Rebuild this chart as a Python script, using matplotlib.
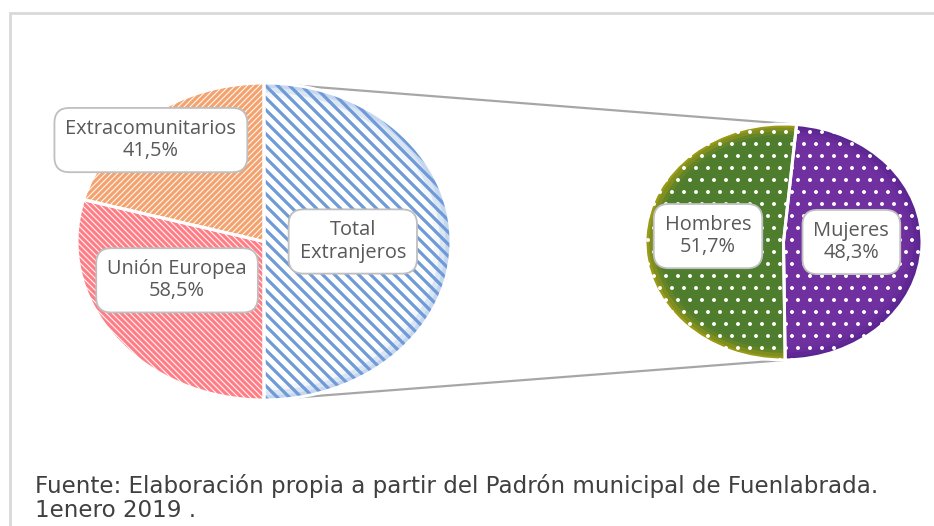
import numpy as np
import matplotlib.pyplot as plt
from matplotlib.patches import ConnectionPatch, Rectangle

# left pie: right half is the whole foreign population, left half split by origin
left_labels = ["Total\nExtranjeros", "Extracomunitarios\n41,5%", "Unión Europea\n58,5%"]
left_values = [100, 41.5, 58.5]
left_colors = ["#6f9ad8", "#f4a36f", "#ff7e86"]
left_rim = ["#c4d6f0", "white", "white"]
left_hatch = ["\\\\", "////", "\\\\\\\\"]

# right pie: foreign population by sex
right_labels = ["Mujeres\n48,3%", "Hombres\n51,7%"]
right_values = [48.3, 51.7]
right_colors = ["#7030a0", "#4f7d2e"]
right_rim = ["#5a2590", "#9a9a18"]

footer = "Fuente: Elaboración propia a partir del Padrón municipal de Fuenlabrada.\n1enero 2019 ."

W, H = 934, 526
DPI = 72
fig = plt.figure(figsize=(W / DPI, H / DPI), dpi=DPI)
fig.patch.set_facecolor("white")

ax1 = fig.add_axes([77 / W, 1 - 400 / H, 374 / W, 317 / H])
ax2 = fig.add_axes([645 / W, 1 - 360 / H, 277 / W, 236 / H])

# left pie: soft rim, white body, coloured stripes
ax1.pie(left_values, startangle=-90, colors=left_rim, wedgeprops=dict(lw=0))
for r, a in zip([0.97, 0.94, 0.91], [0.4, 0.7, 1.0]):
    ax1.pie(left_values, startangle=-90, radius=r, colors=["white"] * 3,
            wedgeprops=dict(lw=0, alpha=a))
plt.rcParams["hatch.linewidth"] = 3.2
w1, _ = ax1.pie(left_values, startangle=-90, colors=["none"] * 3,
                wedgeprops=dict(lw=0))
for w, c, h in zip(w1, left_colors, left_hatch):
    w.set_edgecolor(c)
    w.set_hatch(h)
    w.set_linewidth(0)
ax1.pie(left_values, startangle=-90, colors=["none"] * 3,
        wedgeprops=dict(lw=3, edgecolor="white"))

# right pie: rim colour, then body shaded towards the centre, then white dots
start2 = -89.3
ax2.pie(right_values, startangle=start2, colors=right_rim, wedgeprops=dict(lw=0))
for r, a in zip([0.97, 0.94, 0.91, 0.88], [0.35, 0.55, 0.8, 1.0]):
    ax2.pie(right_values, startangle=start2, radius=r, colors=right_colors,
            wedgeprops=dict(lw=0, alpha=a))
plt.rcParams["hatch.linewidth"] = 1.5
ax2.pie(right_values, startangle=start2, colors=["none"] * 2,
        wedgeprops=dict(lw=0, edgecolor="white", hatch="."))
ax2.pie(right_values, startangle=start2, colors=["none"] * 2,
        wedgeprops=dict(lw=3, edgecolor="white"))

for ax in (ax1, ax2):
    ax.set_aspect("auto")
    ax.set_xlim(-1, 1)
    ax.set_ylim(-1, 1)
    ax.set_facecolor("none")

box = dict(boxstyle="round,pad=0.55,rounding_size=0.75", fc="white",
           ec="#bfbfbf", lw=1.8)
txt = dict(ha="center", va="center", fontsize=20, color="#595959",
           family="Open Sans", linespacing=1.15, bbox=box)

left_pos = [(0.475, 0.0), (-0.605, 0.64), (-0.465, -0.245)]
for (x, y), lab in zip(left_pos, left_labels):
    ax1.text(x, y, lab, **txt)
right_pos = [(0.49, 0.0), (-0.545, 0.05)]
for (x, y), lab in zip(right_pos, right_labels):
    ax2.text(x, y, lab, **txt)

# series lines joining the split half to the second pie
t_top = np.deg2rad(start2 + 360 * right_values[0] / sum(right_values))
t_bot = np.deg2rad(start2)
for pa, pb in [((0, 1), (np.cos(t_top), np.sin(t_top))),
               ((0, -1), (np.cos(t_bot), np.sin(t_bot)))]:
    con = ConnectionPatch(xyA=pa, coordsA=ax1.transData, xyB=pb,
                          coordsB=ax2.transData, color="#a6a6a6", lw=2.2,
                          zorder=-1)
    fig.add_artist(con)

fig.add_artist(Rectangle((9.5 / W, -0.1), 1.0, 1 - 12.5 / H + 0.1,
                         transform=fig.transFigure, fill=False,
                         ec="#d9d9d9", lw=2.8, zorder=-2))

fig.text(35 / W, 1 - 498 / H, footer, ha="left", va="center", fontsize=23,
         color="#404040", family="DejaVu Sans", linespacing=1.1)

fig.savefig("out.png", dpi=DPI)
